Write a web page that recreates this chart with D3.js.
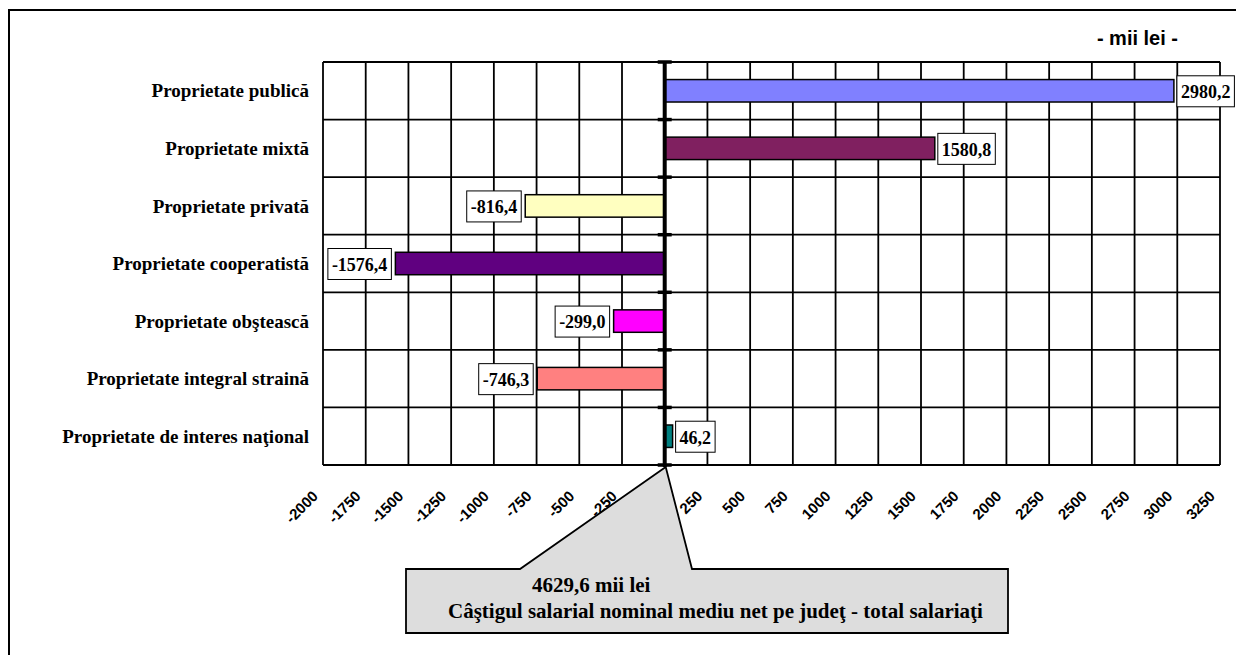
<!DOCTYPE html>
<html><head><meta charset="utf-8">
<script src="https://cdn.jsdelivr.net/npm/d3@7"></script>
<style>body{margin:0;background:#fff}svg{display:block}</style>
</head><body>
<svg id="c" width="1236" height="655"></svg>
<script>
const categories = ["Proprietate publică","Proprietate mixtă","Proprietate privată","Proprietate cooperatistă","Proprietate obştească","Proprietate integral straină","Proprietate de interes naţional"];
const values = [2980.2, 1580.8, -816.4, -1576.4, -299.0, -746.3, 46.2];
const colors = ["#8080FF","#802060","#FFFFC0","#600080","#FF00FF","#FF8080","#008080"];
const tickValues = [-2000,-1750,-1500,-1250,-1000,-750,-500,-250,0,250,500,750,1000,1250,1500,1750,2000,2250,2500,2750,3000,3250];
const unitLabel = "- mii lei -";
const calloutLines = ["4629,6 mii lei","Câştigul salarial nominal mediu net pe judeţ - total salariaţi"];

const svg = d3.select("#c");
const serif = "'Liberation Serif','Times New Roman',serif";
const sans = "'Liberation Sans',Arial,sans-serif";
const L = 323, R = 1220, T = 62, B = 465;
const x = d3.scaleLinear().domain([-2000, 3250]).range([L, R]);
const y = d3.scaleBand().domain(categories).range([T, B]).paddingInner(0).paddingOuter(0);
const fmt = v => d3.format(".1f")(v).replace("\u2212", "-").replace(".", ",");

// outer frame (right and bottom edges lie outside the picture)
svg.append("rect").attr("x",9).attr("y",10).attr("width",1240).attr("height",700)
  .attr("fill","none").attr("stroke","#000").attr("stroke-width",2);

// grid: vertical lines
svg.append("g").selectAll("line").data(tickValues).join("line")
  .attr("x1", d => x(d)).attr("x2", d => x(d)).attr("y1", T).attr("y2", B)
  .attr("stroke","#000").attr("stroke-width",1.8);
// horizontal lines
const hb = categories.map(c => y(c)).concat([B]);
svg.append("g").selectAll("line").data(hb).join("line")
  .attr("x1", L).attr("x2", R).attr("y1", d => d).attr("y2", d => d)
  .attr("stroke","#000").attr("stroke-width",1.8);

// bars
const bh = y.bandwidth()*0.39;
svg.append("g").selectAll("rect").data(values).join("rect")
  .attr("x", d => x(Math.min(0,d)))
  .attr("width", d => Math.abs(x(d)-x(0)))
  .attr("y", (d,i) => y(categories[i]) + (y.bandwidth()-bh)/2)
  .attr("height", bh)
  .attr("fill", (d,i) => colors[i]).attr("stroke","#000").attr("stroke-width",1.5);

// zero axis
svg.append("line").attr("x1",x(0)).attr("x2",x(0)).attr("y1",T).attr("y2",B+2)
  .attr("stroke","#000").attr("stroke-width",4);
svg.append("g").selectAll("line").data(hb).join("line")
  .attr("x1", x(0)-7).attr("x2", x(0)+7).attr("y1", d => d).attr("y2", d => d)
  .attr("stroke","#000").attr("stroke-width",3.5);

// category labels
svg.append("g").selectAll("text").data(categories).join("text")
  .attr("x", 309).attr("y", d => y(d)+y.bandwidth()/2)
  .attr("dy","0.35em").attr("text-anchor","end")
  .attr("font-family",serif).attr("font-weight","bold").attr("font-size",19)
  .text(d => d);

// tick labels
svg.append("g").selectAll("text").data(tickValues.filter(v => v !== 0)).join("text")
  .attr("transform", d => `translate(${x(d)-4},${B+32}) rotate(-45)`)
  .attr("text-anchor","end")
  .attr("font-family",sans).attr("font-weight","bold").attr("font-size",15)
  .text(d => String(d));

// value labels
const lg = svg.append("g");
values.forEach((v,i) => {
  const cy = y(categories[i]) + y.bandwidth()/2;
  const t = lg.append("text").attr("font-family",serif).attr("font-weight","bold")
    .attr("font-size",18).attr("dy","0.35em").attr("y",cy+1).text(fmt(v));
  const w = t.node().getComputedTextLength();
  const bw = w + 8, bx = v >= 0 ? x(v)+3 : x(v)-4-bw;
  lg.insert("rect","text").attr("x",bx).attr("y",cy-15).attr("width",bw).attr("height",31)
    .attr("fill","#fff").attr("stroke","#000").attr("stroke-width",1);
  t.attr("x", bx+4);
});

// unit label
svg.append("text").attr("x",1178).attr("y",45).attr("text-anchor","end")
  .attr("font-family",sans).attr("font-weight","bold").attr("font-size",20).text(unitLabel);

// callout
const cx0 = 406, cx1 = 1008, cy0 = 569, cy1 = 633;
const tip = [x(0)+1, B+2];
svg.append("path")
  .attr("d", `M${cx0},${cy0} L520,${cy0} L${tip[0]},${tip[1]} L692,${cy0} L${cx1},${cy0} L${cx1},${cy1} L${cx0},${cy1} Z`)
  .attr("fill","#DDDDDD").attr("stroke","#000").attr("stroke-width",1.8);
svg.append("text").attr("x",532).attr("y",592)
  .attr("font-family",serif).attr("font-weight","bold").attr("font-size",21).text(calloutLines[0]);
svg.append("text").attr("x",448).attr("y",618)
  .attr("font-family",serif).attr("font-weight","bold").attr("font-size",21).text(calloutLines[1]);
</script>
</body></html>
